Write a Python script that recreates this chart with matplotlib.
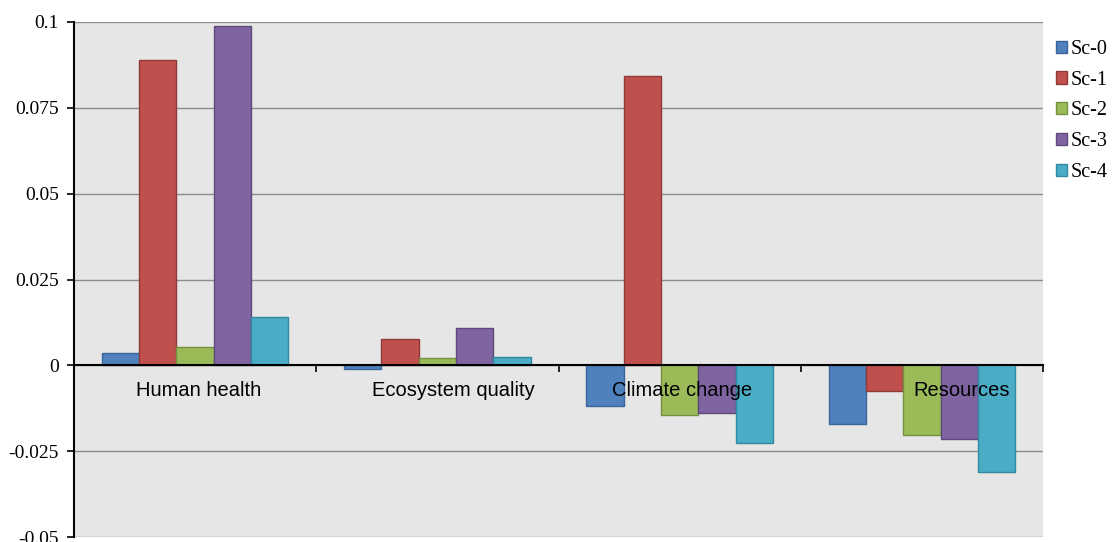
import matplotlib
matplotlib.use("Agg")
import matplotlib.pyplot as plt
import numpy as np

categories = ["Human health", "Ecosystem quality", "Climate change", "Resources"]
series_names = ["Sc-0", "Sc-1", "Sc-2", "Sc-3", "Sc-4"]
sc0 = [0.0035, -0.0011, -0.0117, -0.0171]
sc1 = [0.0888, 0.0076, 0.0842, -0.0075]
sc2 = [0.0052, 0.0020, -0.0144, -0.0202]
sc3 = [0.0987, 0.0109, -0.0138, -0.0214]
sc4 = [0.0140, 0.0023, -0.0227, -0.0311]
series_values = [sc0, sc1, sc2, sc3, sc4]
ytick_values = [-0.05, -0.025, 0, 0.025, 0.05, 0.075, 0.1]
ytick_labels = ["-0.05", "-0.025", "0", "0.025", "0.05", "0.075", "0.1"]

# layout: horizontal shift of each category label from its category centre (axis units)
label_shift = [0.016, 0.064, 0.010, 0.166]

colors = ["#4F81BD", "#C0504D", "#9BBB59", "#8064A2", "#4BACC6"]
edges = ["#3A659A", "#8E3A38", "#75903F", "#5E4A7A", "#2F8AA3"]

W, H = 1113, 542
fig = plt.figure(figsize=(W / 100, H / 100), dpi=100)
fig.patch.set_facecolor("white")
ax = fig.add_axes([74 / W, (H - 537) / H, (1043 - 74) / W, (537 - 22) / H])
ax.set_facecolor("#E6E6E6")

n = len(series_names)
bw = 0.154
x = np.arange(len(categories)) + 0.5
bars = []
for i, (name, vals) in enumerate(zip(series_names, series_values)):
    b = ax.bar(x + (i - (n - 1) / 2) * bw, vals, width=bw, color=colors[i],
               edgecolor=edges[i], linewidth=1.0, label=name, zorder=3)
    bars.append(b)

ax.set_xlim(0, len(categories))
ax.set_ylim(-0.05, 0.1)

ax.set_yticks(ytick_values)
ax.set_yticklabels(ytick_labels, fontfamily="Liberation Serif", fontsize=14)
ax.yaxis.grid(True, color="#8C8C8C", linewidth=1.0, zorder=0)
ax.set_axisbelow(True)

for s in ["top", "right"]:
    ax.spines[s].set_visible(False)
ax.spines["left"].set_color("black")
ax.spines["left"].set_linewidth(1.5)
ax.spines["bottom"].set_position(("data", 0))
ax.spines["bottom"].set_color("black")
ax.spines["bottom"].set_linewidth(1.5)
ax.spines["bottom"].set_zorder(4)

ax.set_xticks(np.arange(1, len(categories) + 1))
ax.set_xticklabels([])
ax.tick_params(axis="x", direction="out", length=5, width=1.2, color="black")
ax.tick_params(axis="y", direction="out", length=5, width=1.2, color="black", pad=6)

for xi, dx, cat in zip(x, label_shift, categories):
    ax.text(xi + dx, -0.0073, cat, ha="center", va="center", fontsize=14.5,
            fontfamily="Liberation Sans", color="black", zorder=5)

leg = fig.legend(handles=bars, labels=series_names, loc="upper left",
                 bbox_to_anchor=(1056 / W, 1 - 40 / H), frameon=False,
                 prop={"family": "Liberation Serif", "size": 14.5},
                 handlelength=0.55, handleheight=0.55, handletextpad=0.2,
                 labelspacing=0.58, borderaxespad=0, borderpad=0)

fig.savefig("out.png", dpi=100)
